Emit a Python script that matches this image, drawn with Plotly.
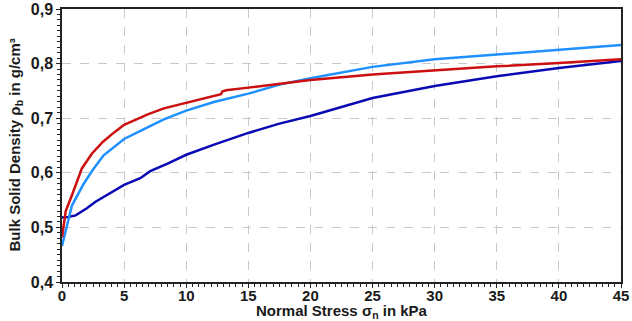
import plotly.graph_objects as go

# Red series
red_x = [0, 0.3, 0.8, 1.6, 2.4, 3.3, 4.2, 5, 6, 6.9, 8.2, 10, 11.5, 12.6, 12.8, 12.9, 13.2, 15, 17.6, 20, 25, 30, 35, 40, 45]
red_y = [0.482, 0.53, 0.559, 0.608, 0.635, 0.657, 0.674, 0.688, 0.698, 0.707, 0.718, 0.728, 0.737, 0.743, 0.744, 0.749, 0.751, 0.756, 0.764, 0.770, 0.780, 0.788, 0.795, 0.801, 0.808]

# Light blue series
lblue_x = [0, 0.4, 0.8, 1.75, 2.5, 3.35, 4.2, 5, 6.6, 8.2, 10, 12.3, 15, 17.6, 20, 25, 30, 35, 40, 45]
lblue_y = [0.466, 0.503, 0.540, 0.580, 0.606, 0.632, 0.648, 0.662, 0.680, 0.698, 0.714, 0.730, 0.745, 0.762, 0.773, 0.794, 0.808, 0.817, 0.826, 0.834]

# Dark blue series
dblue_x = [0, 0.5, 1.1, 2.0, 2.7, 3.4, 4.2, 5, 6.3, 7.1, 8.5, 10, 12.3, 15, 17.5, 20, 25, 30, 35, 40, 45]
dblue_y = [0.518, 0.519, 0.522, 0.535, 0.547, 0.556, 0.567, 0.578, 0.590, 0.603, 0.617, 0.633, 0.652, 0.673, 0.690, 0.704, 0.737, 0.759, 0.777, 0.792, 0.805]

x_ticks = [0, 5, 10, 15, 20, 25, 30, 35, 40, 45]
y_ticks = [0.4, 0.5, 0.6, 0.7, 0.8, 0.9]
x_title = "Normal Stress σ<sub>n</sub> in kPa"
y_title = "Bulk Solid Density ρ<sub>b</sub> in g/cm³"

fig = go.Figure()
fig.add_trace(go.Scatter(x=dblue_x, y=dblue_y, mode="lines", line=dict(color="#0a0ab4", width=2.5), showlegend=False))
fig.add_trace(go.Scatter(x=lblue_x, y=lblue_y, mode="lines", line=dict(color="#1e90ff", width=2.5), showlegend=False))
fig.add_trace(go.Scatter(x=red_x, y=red_y, mode="lines", line=dict(color="#cc0f0f", width=2.5), showlegend=False))

font = "Arial"
fig.update_layout(
    width=632, height=321,
    margin=dict(l=62, r=11, t=9, b=39, autoexpand=False),
    paper_bgcolor="white", plot_bgcolor="white",
    font=dict(family=font, color="#1a1a1a"),
)
fig.update_xaxes(
    range=[0, 45], tickvals=x_ticks, ticktext=[f"<b>{v}</b>" for v in x_ticks],
    tickfont=dict(size=15, family=font), ticklabelstandoff=-5,
    showgrid=True, gridcolor="#c8c8c8", griddash="dash", gridwidth=1,
    showline=True, linecolor="#222", linewidth=1.5, mirror=True,
    ticks="outside", ticklen=4, tickcolor="#222",
    minor=dict(dtick=0.5, ticks="outside", ticklen=3, tickcolor="#222", showgrid=False),
    zeroline=False, automargin=False,
)
fig.update_yaxes(
    range=[0.4, 0.9], tickvals=y_ticks, ticktext=[f"<b>{v:.1f}</b>".replace(".", ",") for v in y_ticks],
    tickfont=dict(size=16, family=font),
    showgrid=True, gridcolor="#c8c8c8", griddash="dash", gridwidth=1,
    showline=True, linecolor="#222", linewidth=1.5, mirror=True,
    ticks="outside", ticklen=4, tickcolor="#222",
    minor=dict(dtick=0.01, ticks="outside", ticklen=3, tickcolor="#222", showgrid=False),
    zeroline=False, automargin=False,
)
fig.add_annotation(text=f"<b>{x_title}</b>", xref="paper", yref="paper", x=0.5, y=0, yshift=-41,
                   xanchor="center", yanchor="bottom", showarrow=False, font=dict(size=15, family=font))
fig.add_annotation(text=f"<b>{y_title}</b>", xref="paper", yref="paper", x=0, y=0.5, xshift=-47,
                   xanchor="center", yanchor="middle", textangle=-90, showarrow=False, font=dict(size=15, family=font))
fig.write_html("out.html", config={"displayModeBar": False},
               post_script="document.body.style.margin='0';document.body.style.overflow='hidden';")
